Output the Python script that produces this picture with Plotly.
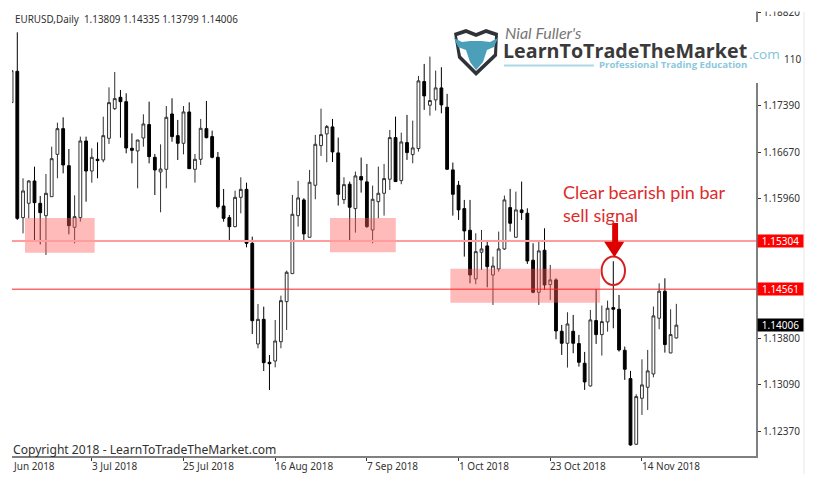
import plotly.graph_objects as go

x_index = list(range(-1, 116))
opens = [1.17437,1.17920,1.15664,1.15885,1.16229,1.15885,1.15694,1.15987,1.16640,1.17036,1.16465,1.15515,1.15664,1.16846,1.16383,1.16563,1.16553,1.16887,1.17344,1.17519,1.17452,1.16733,1.16692,1.16892,1.17098,1.16594,1.16368,1.16409,1.17262,1.16928,1.16810,1.17293,1.16409,1.16563,1.17036,1.16913,1.16594,1.15843,1.15664,1.15525,1.15977,1.16100,1.15268,1.13716,1.14096,1.13433,1.13453,1.13751,1.14369,
 1.14801,1.15695,1.15937,1.15361,1.16163,1.16775,1.16955,1.17063,1.16662,1.15942,1.16179,1.15803,1.16297,1.16215,1.15474,1.15911,1.16040,1.16256,1.16898,1.16235,1.16821,1.16636,1.16729,1.17762,1.17397,1.17479,1.17664,1.17366,1.16400,1.16163,1.15803,1.15469,1.14719,1.15130,1.15228,1.14780,1.14873,1.15181,1.15819,1.15361,1.15783,1.15731,1.15007,1.14513,1.15161,
 1.14632,1.14704,1.13912,1.13727,1.13912,1.13722,1.13419,1.13069,1.14077,1.13861,1.14056,1.14277,1.14251,1.13619,1.13182,1.12170,1.12879,1.13049,1.13254,1.14113,1.14529,1.13578,1.13809]
highs = [1.17930,1.18521,1.16270,1.16244,1.16450,1.15998,1.16337,1.16758,1.17128,1.17211,1.16722,1.16008,1.16913,1.16913,1.16733,1.16825,1.17221,1.17673,1.17910,1.17632,1.17581,1.16964,1.16861,1.17257,1.17452,1.16645,1.16794,1.17385,1.17504,1.17170,1.17385,1.17442,1.16645,1.17185,1.17463,1.17005,1.16676,1.16106,1.15705,1.16080,1.16286,1.16203,1.15371,1.14332,1.14291,1.13546,1.14086,1.14461,1.14847,
 1.16014,1.16230,1.15963,1.16400,1.16939,1.17345,1.17093,1.17186,1.16898,1.16287,1.16220,1.16374,1.16590,1.16492,1.16158,1.16451,1.16492,1.17016,1.17222,1.16975,1.17248,1.17160,1.17849,1.18034,1.18147,1.17931,1.17983,1.17572,1.16513,1.16230,1.15937,1.15937,1.15423,1.15474,1.15305,1.15063,1.15449,1.16004,1.16107,1.16065,1.16220,1.15808,1.15269,1.15294,1.15500,
 1.14935,1.14729,1.14010,1.14205,1.14164,1.13856,1.13594,1.14241,1.14560,1.14308,1.14385,1.14992,1.14472,1.13676,1.13301,1.12941,1.13480,1.13624,1.14293,1.14652,1.14729,1.14251,1.14335]
lows = [1.17437,1.15628,1.15422,1.15653,1.15319,1.15252,1.15088,1.15987,1.16270,1.16347,1.15407,1.15268,1.15602,1.15910,1.16203,1.16270,1.16517,1.16800,1.17324,1.16897,1.16656,1.16501,1.16116,1.16758,1.16501,1.16013,1.15746,1.16116,1.16835,1.16553,1.16640,1.16414,1.16203,1.16476,1.16887,1.16578,1.15807,1.15602,1.15293,1.15515,1.15730,1.15206,1.13870,1.13649,1.13299,1.13006,1.13356,1.13650,1.13932,
 1.14796,1.15526,1.15294,1.15356,1.15947,1.16615,1.16518,1.16523,1.15850,1.15875,1.15294,1.15433,1.16050,1.15505,1.15269,1.15654,1.15695,1.16091,1.16215,1.16179,1.16554,1.16502,1.16682,1.17325,1.17237,1.17315,1.17273,1.16400,1.15695,1.15629,1.15063,1.14652,1.14637,1.14858,1.14590,1.14318,1.14832,1.15166,1.15449,1.15356,1.15629,1.14950,1.14498,1.14318,1.14549,
 1.14395,1.13789,1.13547,1.13352,1.13573,1.13367,1.13008,1.13059,1.13717,1.13537,1.13907,1.13958,1.13599,1.13162,1.12149,1.12159,1.12622,1.12699,1.13203,1.13943,1.13583,1.13573,1.13799]
closes = [1.17930,1.15653,1.16075,1.16229,1.15895,1.15741,1.16039,1.16573,1.17036,1.16476,1.15540,1.15679,1.16846,1.16383,1.16594,1.16543,1.16928,1.17437,1.17499,1.17452,1.16738,1.16702,1.16861,1.17108,1.16604,1.16399,1.16414,1.17211,1.16913,1.16810,1.17293,1.16419,1.16563,1.17041,1.16897,1.16594,1.15833,1.15653,1.15525,1.15977,1.16100,1.15268,1.14075,1.14096,1.13428,1.13412,1.13762,1.14384,1.14822,
 1.15716,1.15968,1.15413,1.16209,1.16795,1.16944,1.17068,1.16677,1.16024,1.16173,1.15824,1.16307,1.16245,1.15526,1.15947,1.16040,1.16266,1.16898,1.16220,1.16831,1.16667,1.16739,1.17772,1.17541,1.17469,1.17664,1.17402,1.16410,1.16024,1.15783,1.15459,1.14780,1.15140,1.15181,1.14909,1.14919,1.15181,1.15937,1.15577,1.15783,1.15742,1.14996,1.14513,1.15151,1.14626,
 1.14704,1.13917,1.13727,1.14025,1.13727,1.13434,1.13131,1.14087,1.13861,1.14061,1.14267,1.14251,1.13624,1.13326,1.12159,1.12905,1.13085,1.13301,1.14149,1.14529,1.13707,1.13861,1.14006]

y_ticks = [1.12370,1.13090,1.13800,1.14530,1.15240,1.15960,1.16670,1.17390,1.18110,1.18820]
y_tick_text = ["1.12370","1.13090","1.13800","","","1.15960","1.16670","1.17390","","1.18820"]
x_tick_pos = [13,29,45,61,77,93,109]
x_label_pos = [-0.75,13,29,45,61,77,93,109]
x_labels = ["Jun 2018","3 Jul 2018","25 Jul 2018","16 Aug 2018","7 Sep 2018","1 Oct 2018","23 Oct 2018","14 Nov 2018"]
support_upper = 1.15304
support_lower = 1.14561
last_price = 1.14006
zones = [(1.34,13.5,1.15124,1.15659),(54.57,66.04,1.15129,1.15659),(75.57,101.7,1.14353,1.14877)]
FONT = "Noto Sans"
# the page body adds an 8 px margin, so the figure sits 8 px in from the window's corner
OFF = 8
W, H, PLOT_B, PLOT_R, PLOT_L, PLOT_T = 835-OFF, 494-OFF, 456, 756, 12, OFF

def px(x): return (x-PLOT_L)/(PLOT_R-PLOT_L)
def py(y): return 1-(y-PLOT_T)/(PLOT_B-PLOT_T)
def poly(pts): return "M " + " L ".join(f"{px(a):.4f} {py(b):.4f}" for a,b in pts) + " Z"

fig = go.Figure(go.Candlestick(
    x=x_index, open=opens, high=highs, low=lows, close=closes,
    increasing=dict(line=dict(color="#303030", width=1), fillcolor="white"),
    decreasing=dict(line=dict(color="#000000", width=1), fillcolor="black"),
    whiskerwidth=0, showlegend=False, hoverinfo="skip"))

shapes = []
for a,b,lo,hi in zones:
    shapes.append(dict(type="rect", xref="x", yref="y", x0=a, x1=b, y0=lo, y1=hi, line_width=0,
                       fillcolor="rgba(255,90,90,0.42)", layer="above"))
shapes.append(dict(type="line", xref="paper", yref="y", x0=0, x1=1, y0=support_upper, y1=support_upper,
                   line=dict(color="#ff9c9c", width=2), layer="above"))
shapes.append(dict(type="line", xref="paper", yref="y", x0=0, x1=1, y0=support_lower, y1=support_lower,
                   line=dict(color="#ff2020", width=1), layer="above"))
shapes.append(dict(type="circle", xref="x", yref="y", x0=101.96, x1=106.04, y0=1.14626, y1=1.15066,
                   line=dict(color="#d42020", width=2), layer="above"))
shapes.append(dict(type="path", xref="x", yref="y", fillcolor="#dc0000", line_width=0, layer="above",
    path="M 103.8 1.15581 L 104.83 1.15581 L 104.83 1.15293 L 105.9 1.15293 L 104.2 1.15053 L 102.4 1.15293 L 103.8 1.15293 Z"))
# white panels of the overlaid logo and top band
shapes.append(dict(type="rect", xref="paper", yref="paper", x0=px(445), x1=px(782), y0=py(83), y1=py(22),
                   fillcolor="white", line_width=0, layer="above"))
shapes.append(dict(type="rect", xref="paper", yref="paper", x0=px(700), x1=px(810), y0=py(11.5), y1=1,
                   fillcolor="white", line_width=0, layer="above"))
shapes.append(dict(type="line", xref="paper", yref="paper", x0=px(804), x1=px(804), y0=py(474), y1=py(12),
                   line=dict(color="#e8e8e8", width=1), layer="above"))
# logo emblem
shapes.append(dict(type="path", xref="paper", yref="paper", fillcolor="#2f3236", line_width=0, layer="above",
    path=poly([(454,33),(466,29),(476,33),(486,29),(498,33),(497,56),(476,76),(458,58)])))
shapes.append(dict(type="path", xref="paper", yref="paper", fillcolor="white", line_width=0, layer="above",
    path=poly([(457,36),(466,33),(476,37),(486,33),(495,36),(494,54),(476,71),(461,56)])))
shapes.append(dict(type="path", xref="paper", yref="paper", fillcolor="#4b9fb8", line_width=0, layer="above",
    path=poly([(454,38),(462,42),(470,41),(482,41),(490,42),(498,38),(494,47),(487,50),(483,62),(476,70),(470,62),(466,50),(458,47)])))
shapes.append(dict(type="line", xref="paper", yref="paper", x0=px(504), x1=px(594), y0=py(65.5), y1=py(65.5),
                   line=dict(color="#a9d9e6", width=2), layer="above"))

ann = []
def txt(x, y, s, size, color, **kw):
    ann.append(dict(xref="paper", yref="paper", x=px(x), y=py(y), text=s, showarrow=False, xanchor="left",
                    yanchor="middle", font=dict(family=kw.pop("family", FONT), size=size, color=color), borderpad=0, **kw))

txt(14, 19, "EURUSD,Daily  1.13809 1.14335 1.13799 1.14006", 9.9, "#303030")
txt(12, 449, "Copyright 2018 - LearnToTradeTheMarket.com", 12.1, "#303030")
txt(562, 192, "Clear bearish pin bar", 18, "#dd2c2c", family="Lato")
txt(562, 215, "sell signal", 18, "#dd2c2c", family="Lato")
txt(504, 32, "<i>Nial Fuller's</i>", 16, "#777777", family="Lato")
txt(502, 50, "<b>LearnToTradeTheMarket</b>", 19.7, "#3a3a3a", family="Open Sans")
txt(748, 54, ".com", 13.5, "#7fc4da", family="Open Sans")
txt(598, 65, "<b>Professional Trading Education</b>", 9.6, "#8cc8dc", family="Open Sans")
txt(783, 59, "110", 10, "#333333")
for pos, lab in zip(x_label_pos, x_labels):
    ann.append(dict(xref="x", yref="paper", x=pos, y=py(466), text=lab, showarrow=False, xanchor="left", yanchor="middle",
                    xshift=-1, font=dict(family=FONT, size=10, color="#333333"), borderpad=0))
for val, bg in ((support_upper,"#ff0000"),(support_lower,"#ff0000"),(last_price,"#000000")):
    ann.append(dict(xref="paper", yref="y", x=px(757), y=val, text=f"{val:.5f}", showarrow=False, xanchor="left", yanchor="middle",
                    width=45, height=12, bgcolor=bg, align="center", borderpad=0,
                    font=dict(family=FONT, size=10, color="white")))

fig.update_layout(
    width=W, height=H, autosize=False,
    margin=dict(l=PLOT_L-OFF, r=W-(PLOT_R-OFF), t=0, b=H-(PLOT_B-OFF), autoexpand=False),
    paper_bgcolor="white", plot_bgcolor="white", showlegend=False, boxgap=0.3,
    shapes=shapes, annotations=ann,
    xaxis=dict(range=[-0.925,128.9], rangeslider_visible=False, showgrid=False, zeroline=False,
               tickmode="array", tickvals=x_tick_pos, ticktext=[""]*len(x_tick_pos), ticks="outside", ticklen=3,
               tickcolor="#333333", showline=True, linecolor="#808080", linewidth=2),
    yaxis=dict(range=[1.11989,1.18896], side="right", showgrid=False, zeroline=False,
               tickmode="array", tickvals=y_ticks, ticktext=y_tick_text, ticks="outside", ticklen=3,
               ticklabeloverflow="allow",
               tickcolor="#333333", showline=True, linecolor="#808080", linewidth=2,
               tickfont=dict(family=FONT, size=10, color="#333333")))
fig.write_html("out.html")
